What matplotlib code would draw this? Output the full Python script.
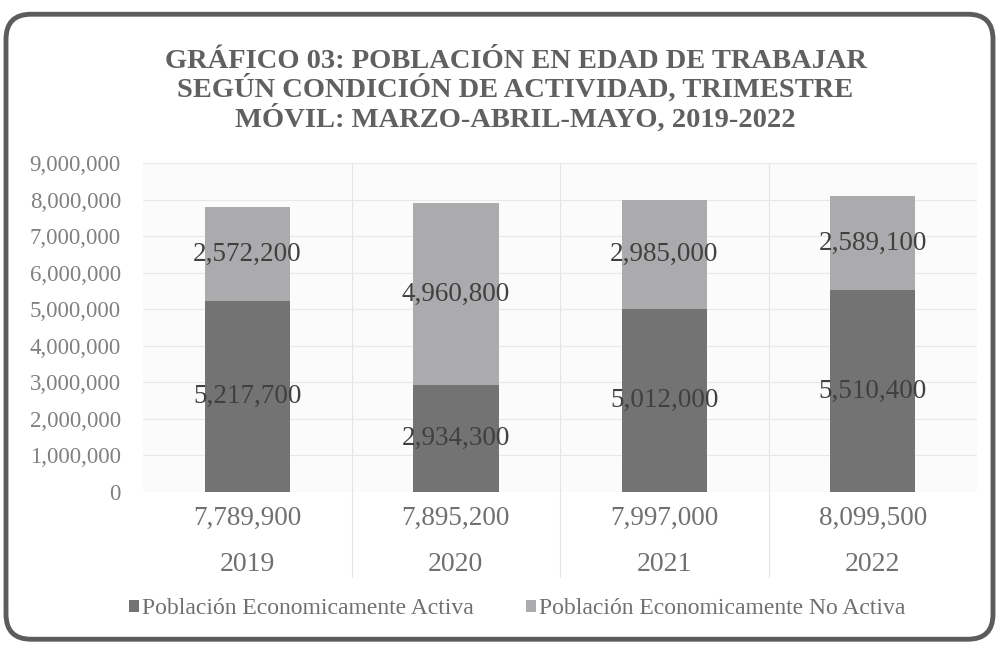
import matplotlib.pyplot as plt
import numpy as np
from matplotlib.patches import FancyBboxPatch

years = ['2019', '2020', '2021', '2022']
totales = ['7,789,900', '7,895,200', '7,997,000', '8,099,500']
activa = [5217700, 2934300, 5012000, 5510400]
no_activa = [2572200, 4960800, 2985000, 2589100]

titulo = ('GRÁFICO 03: POBLACIÓN EN EDAD DE TRABAJAR\n'
          'SEGÚN CONDICIÓN DE ACTIVIDAD, TRIMESTRE\n'
          'MÓVIL: MARZO-ABRIL-MAYO, 2019-2022')

plt.rcParams['font.family'] = ['Liberation Serif', 'DejaVu Serif']

if __name__ == '__main__':
    fig = plt.figure(figsize=(10.01, 6.47), dpi=100)
    ax = fig.add_axes([0.143, 0.240, 0.833, 0.508])
    ax.set_facecolor('#fbfbfb')

    x = np.arange(len(years))
    bar_width = 0.41
    b1 = ax.bar(x, activa, bar_width, color='#737373', label='Población Economicamente Activa', zorder=3)
    b2 = ax.bar(x, no_activa, bar_width, bottom=activa, color='#ababae',
                label='Población Economicamente No Activa', zorder=3)

    for rect, v in zip(b1, activa):
        ax.text(rect.get_x() + rect.get_width() / 2, rect.get_y() + v / 2, f'{v:,}',
                ha='center', va='center', fontsize=19.5, color='#404040', zorder=4)
    for rect, v in zip(b2, no_activa):
        ax.text(rect.get_x() + rect.get_width() / 2, rect.get_y() + v / 2, f'{v:,}',
                ha='center', va='center', fontsize=19.5, color='#404040', zorder=4)

    ax.set_xlim(-0.5, len(years) - 0.5)
    ax.set_ylim(0, 9000000)
    ax.set_yticks(np.arange(0, 9000001, 1000000))
    ax.set_yticklabels([f'{int(v):,}' for v in ax.get_yticks()], fontsize=16.5, color='#808080')
    ax.tick_params(axis='y', length=0, pad=16)
    ax.set_xticks([])
    ax.grid(axis='y', color='#e8e8e8', linewidth=0.8, zorder=0)
    for s in ax.spines.values():
        s.set_visible(False)

    # separadores de categoria, bajan hasta la zona de etiquetas
    for b in np.arange(0.5, len(years) - 0.5, 1):
        ax.plot([b, b], [-0.26, 1.0], transform=ax.get_xaxis_transform(),
                color='#e4e4e4', linewidth=0.8, clip_on=False, zorder=0)

    # etiquetas de dos niveles en el eje x
    for i in x:
        ax.text(i, -0.08, totales[i], transform=ax.get_xaxis_transform(),
                ha='center', va='center', fontsize=19.5, color='#707070')
        ax.text(i, -0.22, years[i], transform=ax.get_xaxis_transform(),
                ha='center', va='center', fontsize=20, color='#707070')

    fig.text(0.515, 0.86, titulo, ha='center', va='center', fontsize=20.5,
             fontweight='bold', color='#606060', linespacing=1.05)

    fig.legend(handles=[b1, b2], loc='center', bbox_to_anchor=(0.517, 0.059), ncol=2,
               frameon=False, fontsize=17, labelcolor='#707070', handlelength=0.4,
               handleheight=0.4, handletextpad=0.15, columnspacing=2.2)

    frame = FancyBboxPatch((0.006, 0.012), 0.986, 0.966, boxstyle='round,pad=0,rounding_size=0.025',
                           transform=fig.transFigure, fill=False, edgecolor='#5c5c5c',
                           linewidth=3.5, mutation_aspect=1001 / 647)
    fig.patches.append(frame)

    plt.savefig('out.png', dpi=100)
